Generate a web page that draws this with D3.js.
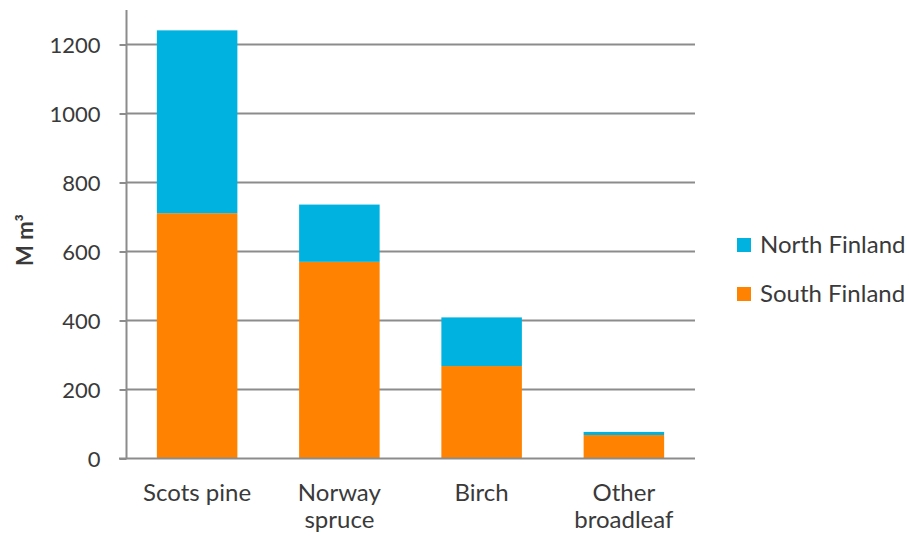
<!DOCTYPE html>
<html><head><meta charset="utf-8">
<script src="https://cdn.jsdelivr.net/npm/d3@7"></script>
<style>body{margin:0;background:#fff;} text{font-family:Lato,"Open Sans",sans-serif;fill:#3a3a3a;}</style>
</head><body>
<svg id="c" width="909" height="537"></svg>
<script>
const categories = [["Scots pine"], ["Norway", "spruce"], ["Birch"], ["Other", "broadleaf"]];
const southFinland = [711, 570, 268, 68];
const northFinland = [530, 166, 141, 9];
const seriesNames = ["North Finland", "South Finland"];
const yTicks = [0, 200, 400, 600, 800, 1000, 1200];
const colors = {"North Finland": "#00b2e0", "South Finland": "#ff8200"};

const svg = d3.select("#c");
const x = d3.scaleBand().domain(d3.range(categories.length)).range([126, 695]).paddingInner(0.434).paddingOuter(0.217);
const y = d3.scaleLinear().domain([0, 1300]).range([458.5, 10]);

// gridlines
svg.append("g").selectAll("line").data(yTicks.filter(d => d > 0)).join("line")
  .attr("x1", 126).attr("x2", 695).attr("y1", d => y(d)).attr("y2", d => y(d))
  .attr("stroke", "#8c8c8c").attr("stroke-width", 2);

// bars
const stackData = categories.map((c, i) => ({i, "South Finland": southFinland[i], "North Finland": northFinland[i]}));
const stack = d3.stack().keys(["South Finland", "North Finland"])(stackData);
svg.append("g").selectAll("g").data(stack).join("g").attr("fill", d => colors[d.key])
  .selectAll("rect").data(d => d).join("rect")
  .attr("x", d => x(d.data.i)).attr("width", x.bandwidth())
  .attr("y", d => y(d[1])).attr("height", d => y(d[0]) - y(d[1]));

// y axis
const yAxis = d3.axisLeft(y).tickValues(yTicks).tickSize(7).tickPadding(19).tickFormat(d3.format("d"));
const ga = svg.append("g").attr("transform", "translate(126.5,0)").call(yAxis);
ga.select(".domain").attr("stroke", "#8c8c8c").attr("stroke-width", 2).attr("d", `M0,${y(1300)}V${y(0)}`);
ga.selectAll(".tick line").attr("stroke", "#8c8c8c").attr("stroke-width", 2);
ga.selectAll(".tick text").style("font-size", "22px").attr("fill", "#3a3a3a").attr("dy", "0.36em");

// x axis baseline
svg.append("line").attr("x1", 119).attr("x2", 695).attr("y1", y(0)).attr("y2", y(0)).attr("stroke", "#8c8c8c").attr("stroke-width", 2);

// x labels
const xl = svg.append("g").selectAll("text").data(categories).join("text")
  .attr("text-anchor", "middle").style("font-size", "24px")
  .attr("x", (d, i) => x(i) + x.bandwidth() / 2).attr("y", 501);
xl.selectAll("tspan").data(d => d).join("tspan")
  .attr("x", function() { return this.parentNode.getAttribute("x"); })
  .attr("dy", (d, j) => j === 0 ? 0 : 27).text(d => d);

// y title
svg.append("text").attr("transform", "translate(33,240) rotate(-90)").attr("text-anchor", "middle")
  .style("font-size", "22px").style("font-weight", "bold")
  .text("M m³");

// legend
const lg = svg.append("g").selectAll("g").data(seriesNames).join("g")
  .attr("transform", (d, i) => `translate(737,${238 + i * 49})`);
lg.append("rect").attr("width", 14).attr("height", 14).attr("fill", d => colors[d]);
lg.append("text").attr("x", 23).attr("y", 15).style("font-size", "24px").text(d => d);
</script>
</body></html>
